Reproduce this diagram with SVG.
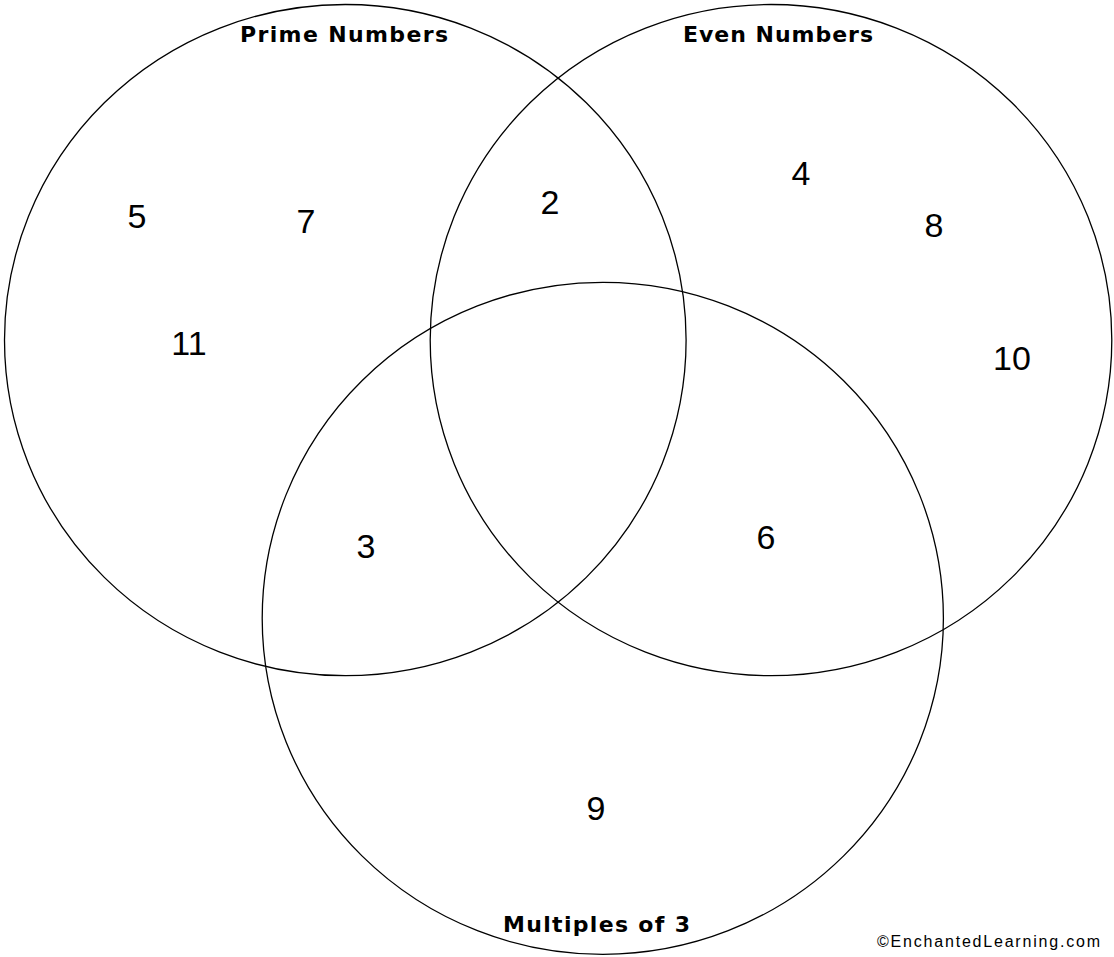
<svg xmlns="http://www.w3.org/2000/svg" width="1114" height="957" viewBox="0 0 1114 957">
<style>
.c{fill:none;stroke:#000;stroke-width:1.3}
.t{font-family:"DejaVu Sans",sans-serif;font-weight:bold;font-size:22px;fill:#000}
.n{font-family:"Liberation Sans",Arial,sans-serif;font-size:34px;fill:#000;text-anchor:middle}
.s{font-family:"Liberation Sans",Arial,sans-serif;font-size:16px;fill:#000}
</style>
<rect width="1114" height="957" fill="#fff"/>
<g id="prime">
<ellipse class="c" cx="345.3" cy="340.1" rx="340.8" ry="335.6"/>
<text class="t" x="240" y="42" textLength="208" lengthAdjust="spacing">Prime Numbers</text>
</g>
<g id="even">
<ellipse class="c" cx="771" cy="340.1" rx="340.8" ry="335.6"/>
<text class="t" x="683" y="42" textLength="190" lengthAdjust="spacing">Even Numbers</text>
</g>
<g id="mult3">
<ellipse class="c" cx="602.8" cy="618.3" rx="340.6" ry="336"/>
<text class="t" x="503" y="932" textLength="187" lengthAdjust="spacing">Multiples of 3</text>
</g>
<g id="numbers">
<text class="n" x="137" y="228">5</text>
<text class="n" x="306" y="233">7</text>
<text class="n" x="189" y="355">11</text>
<text class="n" x="550" y="214">2</text>
<text class="n" x="801" y="185">4</text>
<text class="n" x="934" y="237">8</text>
<text class="n" x="1012" y="370">10</text>
<text class="n" x="366" y="558">3</text>
<text class="n" x="766" y="549">6</text>
<text class="n" x="596" y="820">9</text>
</g>
<g id="connectors"></g>
<text class="s" x="877" y="947" textLength="223" lengthAdjust="spacing">©EnchantedLearning.com</text>
</svg>
